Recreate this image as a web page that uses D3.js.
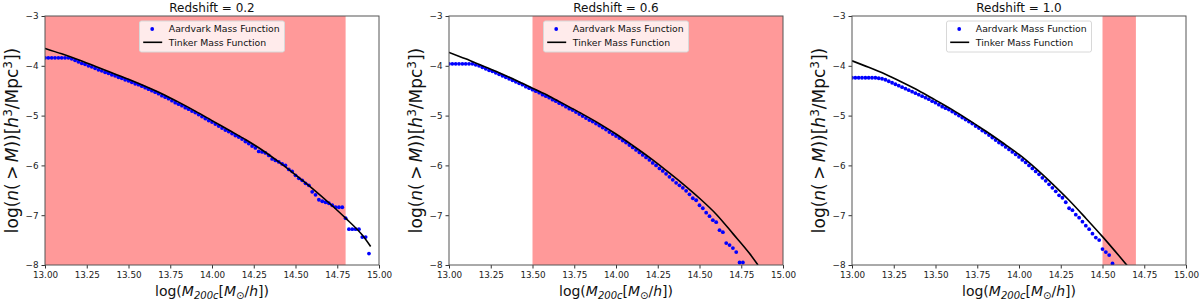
<!DOCTYPE html>
<html>
<head>
<meta charset="utf-8">
<script src="https://cdn.jsdelivr.net/npm/d3@7"></script>
<style>
  body { margin: 0; background: #fff; }
  text { font-family: "DejaVu Sans", sans-serif; }
</style>
</head>
<body>
<svg id="chart" width="1200" height="301"></svg>
<script>
// redshift labels
var redshifts = ["0.2", "0.6", "1.0"];

// shared mass grid for the Aardvark points, log(M200c) step
var massGrid = [13.00,13.02,13.04,13.06,13.08,13.10,13.12,13.14,13.16,13.18,
  13.20,13.22,13.24,13.26,13.28,13.30,13.32,13.34,13.36,13.38,
  13.40,13.42,13.44,13.46,13.48,13.50,13.52,13.54,13.56,13.58,
  13.60,13.62,13.64,13.66,13.68,13.70,13.72,13.74,13.76,13.78,
  13.80,13.82,13.84,13.86,13.88,13.90,13.92,13.94,13.96,13.98,
  14.00,14.02,14.04,14.06,14.08,14.10,14.12,14.14,14.16,14.18,
  14.20,14.22,14.24,14.26,14.28,14.30,14.32,14.34,14.36,14.38,
  14.40,14.42,14.44,14.46,14.48,14.50,14.52,14.54,14.56,14.58,
  14.60,14.62,14.64,14.66,14.68,14.70,14.72,14.74,14.76,14.78,
  14.80,14.82,14.84,14.86,14.88,14.90,14.92,14.94];

// Aardvark log n(>M), one value per massGrid entry
var aardvark02 = [-3.84,-3.84,-3.84,-3.84,-3.84,-3.84,-3.84,-3.84,-3.86,-3.89,
  -3.92,-3.95,-3.97,-4.00,-4.02,-4.05,-4.08,-4.10,-4.13,-4.15,
  -4.18,-4.20,-4.23,-4.25,-4.28,-4.30,-4.33,-4.36,-4.38,-4.41,
  -4.44,-4.47,-4.50,-4.53,-4.56,-4.60,-4.63,-4.66,-4.70,-4.74,
  -4.77,-4.80,-4.84,-4.87,-4.91,-4.94,-4.98,-5.02,-5.06,-5.10,
  -5.13,-5.17,-5.21,-5.25,-5.29,-5.32,-5.36,-5.40,-5.43,-5.47,
  -5.52,-5.56,-5.61,-5.65,-5.72,-5.73,-5.75,-5.80,-5.87,-5.90,
  -5.93,-5.97,-6.00,-6.08,-6.12,-6.20,-6.26,-6.30,-6.36,-6.40,
  -6.53,-6.59,-6.69,-6.72,-6.74,-6.76,-6.80,-6.84,-6.84,-6.84,
  -7.06,-7.28,-7.28,-7.28,-7.28,-7.44,-7.44,-7.77];

var aardvark06 = [-3.96,-3.96,-3.96,-3.96,-3.96,-3.96,-3.96,-3.96,-3.98,-4.00,
  -4.03,-4.06,-4.09,-4.11,-4.14,-4.17,-4.20,-4.23,-4.26,-4.29,
  -4.32,-4.35,-4.38,-4.42,-4.45,-4.48,-4.51,-4.54,-4.58,-4.61,
  -4.64,-4.68,-4.71,-4.75,-4.78,-4.82,-4.86,-4.89,-4.93,-4.97,
  -5.01,-5.05,-5.09,-5.12,-5.16,-5.20,-5.24,-5.28,-5.33,-5.37,
  -5.41,-5.45,-5.50,-5.54,-5.59,-5.64,-5.69,-5.74,-5.79,-5.84,
  -5.89,-5.95,-6.00,-6.06,-6.11,-6.17,-6.23,-6.29,-6.35,-6.40,
  -6.45,-6.51,-6.58,-6.66,-6.70,-6.80,-6.86,-6.95,-7.02,-7.10,
  -7.14,-7.30,-7.34,-7.56,-7.60,-7.66,-7.74,-7.95,-7.95];

var aardvark10 = [-4.24,-4.24,-4.24,-4.24,-4.24,-4.24,-4.24,-4.24,-4.25,-4.26,
  -4.28,-4.31,-4.34,-4.37,-4.40,-4.43,-4.46,-4.49,-4.52,-4.55,
  -4.58,-4.61,-4.64,-4.67,-4.71,-4.74,-4.78,-4.82,-4.85,-4.88,
  -4.92,-4.96,-5.00,-5.04,-5.08,-5.12,-5.16,-5.21,-5.25,-5.30,
  -5.34,-5.39,-5.44,-5.49,-5.54,-5.58,-5.63,-5.68,-5.73,-5.78,
  -5.83,-5.89,-5.94,-6.00,-6.06,-6.12,-6.18,-6.25,-6.31,-6.38,
  -6.45,-6.52,-6.60,-6.65,-6.74,-6.86,-6.90,-6.99,-7.05,-7.13,
  -7.21,-7.28,-7.37,-7.45,-7.50,-7.68,-7.74,-7.80,-7.97];

// Tinker mass function curves
var tinkerMass02 = [13.0,13.1,13.2,13.3,13.4,13.5,13.6,13.7,13.8,13.9,14.0,14.1,14.2,14.3,14.4,14.5,14.6,14.7,14.8,14.9,14.95];
var tinkerLog02  = [-3.65,-3.76,-3.88,-4.01,-4.14,-4.27,-4.41,-4.56,-4.73,-4.91,-5.10,-5.29,-5.48,-5.69,-5.93,-6.19,-6.46,-6.75,-7.06,-7.40,-7.63];

var tinkerMass06 = [13.0,13.1,13.2,13.3,13.4,13.5,13.6,13.7,13.8,13.9,14.0,14.1,14.2,14.3,14.4,14.5,14.6,14.7,14.8,14.85];
var tinkerLog06  = [-3.73,-3.86,-4.00,-4.14,-4.29,-4.45,-4.61,-4.79,-4.97,-5.16,-5.37,-5.60,-5.84,-6.10,-6.37,-6.66,-6.98,-7.37,-7.77,-8.00];

var tinkerMass10 = [13.0,13.1,13.2,13.3,13.4,13.5,13.6,13.7,13.8,13.9,14.0,14.1,14.2,14.3,14.4,14.5,14.6,14.65];
var tinkerLog10  = [-3.90,-4.03,-4.17,-4.33,-4.50,-4.69,-4.88,-5.09,-5.31,-5.54,-5.78,-6.06,-6.37,-6.70,-7.06,-7.43,-7.82,-8.02];

// shaded mass ranges
var bandStart = [13.0, 13.5, 14.5];
var bandEnd   = [14.8, 15.0, 14.7];

var xTicks = [13.00,13.25,13.50,13.75,14.00,14.25,14.50,14.75,15.00];
var yTicks = [-3,-4,-5,-6,-7,-8];

var aardvarkSets = [aardvark02, aardvark06, aardvark10];
var tinkerMassSets = [tinkerMass02, tinkerMass06, tinkerMass10];
var tinkerLogSets = [tinkerLog02, tinkerLog06, tinkerLog10];

var lefts = [45, 449, 852];
var plotW = 334;
var top_ = 16, bottom = 265;

var svg = d3.select("#chart");

function drawPanel(k){
    var left = lefts[k], right = left + plotW;
    var g = svg.append("g");

    var xScale = d3.scaleLinear().domain([13, 15]).range([left, right]);
    var yScale = d3.scaleLinear().domain([-8, -3]).range([bottom, top_]);

    g.append("clipPath").attr("id", "clip" + k)
     .append("rect")
     .attr("x", left).attr("y", top_)
     .attr("width", plotW).attr("height", bottom - top_);

    var plot = g.append("g").attr("clip-path", "url(#clip" + k + ")");

    // shaded band
    plot.append("rect")
        .attr("x", xScale(bandStart[k]))
        .attr("y", top_)
        .attr("width", xScale(bandEnd[k]) - xScale(bandStart[k]))
        .attr("height", bottom - top_)
        .attr("fill", "#ff9999");

    // tinker line
    var tinker = tinkerMassSets[k].map(function(m, i){ return [m, tinkerLogSets[k][i]]; });
    var line = d3.line()
        .x(function(d){ return xScale(d[0]); })
        .y(function(d){ return yScale(d[1]); })
        .curve(d3.curveMonotoneX);

    // aardvark points
    var pts = aardvarkSets[k].map(function(v, i){ return [massGrid[i], v]; });
    plot.selectAll("circle.pt")
        .data(pts)
        .enter()
        .append("circle")
        .attr("class", "pt")
        .attr("cx", function(d){ return xScale(d[0]); })
        .attr("cy", function(d){ return yScale(d[1]); })
        .attr("r", 1.9)
        .attr("fill", "#0000ff");

    plot.append("path")
        .datum(tinker)
        .attr("d", line)
        .attr("fill", "none")
        .attr("stroke", "#000")
        .attr("stroke-width", 1.6);

    // axes
    var xAxis = g.append("g")
        .attr("transform", "translate(0," + bottom + ")")
        .call(d3.axisBottom(xScale).tickValues(xTicks).tickFormat(d3.format(".2f")).tickSize(3.5).tickPadding(3));
    var yAxis = g.append("g")
        .attr("transform", "translate(" + left + ",0)")
        .call(d3.axisLeft(yScale).tickValues(yTicks).tickFormat(function(d){ return "\u2212" + Math.abs(d); }).tickSize(3.5).tickPadding(3));
    [xAxis, yAxis].forEach(function(a){
        a.select(".domain").remove();
        a.selectAll("line").attr("stroke", "#333");
        a.selectAll("text").attr("fill", "#222").style("font-size", "8.8px");
    });

    // frame
    g.append("rect")
        .attr("x", left).attr("y", top_)
        .attr("width", plotW).attr("height", bottom - top_)
        .attr("fill", "none")
        .attr("stroke", "#555")
        .attr("stroke-width", 1);

    // title
    g.append("text")
        .attr("x", (left + right) / 2)
        .attr("y", 11.5)
        .attr("text-anchor", "middle")
        .style("font-size", "12px")
        .attr("fill", "#111")
        .text("Redshift = " + redshifts[k]);

    // x label
    var xl = g.append("text")
        .attr("x", (left + right) / 2)
        .attr("y", 296)
        .attr("text-anchor", "middle")
        .style("font-size", "14px")
        .attr("fill", "#111");
    xl.append("tspan").text("log(");
    xl.append("tspan").attr("font-style", "italic").text("M");
    xl.append("tspan").attr("font-style", "italic").attr("dy", 3).style("font-size", "10px").text("200c");
    xl.append("tspan").attr("dy", -3).text("[");
    xl.append("tspan").attr("font-style", "italic").text("M");
    xl.append("tspan").attr("dy", 3).style("font-size", "10px").text("\u2299");
    xl.append("tspan").attr("dy", -3).text("/");
    xl.append("tspan").attr("font-style", "italic").text("h");
    xl.append("tspan").text("])");

    // y label
    var cy = (top_ + bottom) / 2;
    var yl = g.append("text")
        .attr("transform", "translate(" + (left - 27) + "," + cy + ") rotate(-90)")
        .attr("text-anchor", "middle")
        .style("font-size", "17px")
        .attr("fill", "#111");
    yl.append("tspan").text("log(");
    yl.append("tspan").attr("font-style", "italic").text("n");
    yl.append("tspan").text("(\u2009>\u2009");
    yl.append("tspan").attr("font-style", "italic").text("M");
    yl.append("tspan").text("))[");
    yl.append("tspan").attr("font-style", "italic").text("h");
    yl.append("tspan").attr("dy", -6).style("font-size", "12px").text("3");
    yl.append("tspan").attr("dy", 6).text("/Mpc");
    yl.append("tspan").attr("dy", -6).style("font-size", "12px").text("3");
    yl.append("tspan").attr("dy", 6).text("])");

    // legend
    var lw = 145, lh = 31;
    var lx = (left + right) / 2 - lw / 2, ly = top_ + 5;
    var leg = g.append("g");
    leg.append("rect")
        .attr("x", lx).attr("y", ly)
        .attr("width", lw).attr("height", lh)
        .attr("rx", 2)
        .attr("fill", "#fff").attr("fill-opacity", 0.8)
        .attr("stroke", "#d8d8d8").attr("stroke-width", 1);
    leg.append("circle")
        .attr("cx", lx + 12.7).attr("cy", ly + 8)
        .attr("r", 1.9).attr("fill", "#0000ff");
    leg.append("line")
        .attr("x1", lx + 3.7).attr("x2", lx + 22.7)
        .attr("y1", ly + 21.3).attr("y2", ly + 21.3)
        .attr("stroke", "#000").attr("stroke-width", 1.6);
    leg.append("text")
        .attr("x", lx + 29.3).attr("y", ly + 11.3)
        .style("font-size", "9.3px").attr("fill", "#111")
        .text("Aardvark Mass Function");
    leg.append("text")
        .attr("x", lx + 29.3).attr("y", ly + 24.6)
        .style("font-size", "9.3px").attr("fill", "#111")
        .text("Tinker Mass Function");
}

for (var k = 0; k < 3; k++) drawPanel(k);
</script>
</body>
</html>
